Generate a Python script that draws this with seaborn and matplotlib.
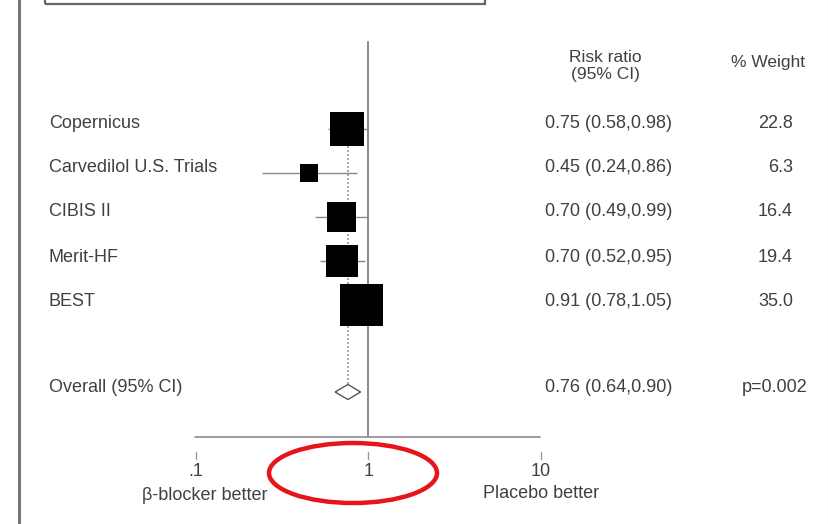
import numpy as np
import pandas as pd
import matplotlib
matplotlib.use("Agg")
import matplotlib.pyplot as plt
from matplotlib.patches import Ellipse, Rectangle, Polygon
import seaborn as sns

# ---------------- data ----------------
studies = ["Copernicus", "Carvedilol U.S. Trials", "CIBIS II", "Merit-HF", "BEST"]
rr = [0.75, 0.45, 0.70, 0.70, 0.91]
lo = [0.58, 0.24, 0.49, 0.52, 0.78]
hi = [0.98, 0.86, 0.99, 0.95, 1.05]
weight = [22.8, 6.3, 16.4, 19.4, 35.0]
overall_label = "Overall (95% CI)"
overall_rr = 0.76
overall_lo = 0.64
overall_hi = 0.90
overall_p = "p=0.002"
tick_values = [0.1, 1, 10]
tick_labels = [".1", "1", "10"]
left_note = "\u03b2-blocker better"
right_note = "Placebo better"

# ---------------- layout ----------------
W, H = 829, 524
sns.set_theme(style="white")
plt.rcParams["font.family"] = ["Liberation Sans", "DejaVu Sans"]
fig = plt.figure(figsize=(W / 100, H / 100), dpi=100)
ax = fig.add_axes([0, 0, 1, 1])
ax.set_xscale("log")
x0 = 196.0     # pixel of 0.1
dec = 172.5    # pixels per decade
ax.set_xlim(10 ** (-1 - x0 / dec), 10 ** (-1 + (W - x0) / dec))
ax.set_ylim(H, 0)
ax.axis("off")


def px(x):
    return 10 ** (-1 + (x - x0) / dec)


text_y = [124, 168, 212, 257, 301]
mark_y = [129, 173, 217, 261, 305]
overall_text_y = 388
overall_mark_y = 392
txt = "#404040"
fs = 13

df = pd.DataFrame({"study": studies, "rr": rr, "lo": lo, "hi": hi,
                   "weight": weight, "y": mark_y})

# reference line at 1
ax.plot([1, 1], [42, 437], color="#8a8a8a", lw=1.4, zorder=1)
# dotted line at overall estimate
ax.plot([overall_rr, overall_rr], [114, overall_mark_y - 8], color="#9a9a9a", lw=1.2,
        ls=(0, (1.2, 1.2)), zorder=1)
# horizontal axis line
ax.plot([px(195), px(540)], [437, 437], color="#8a8a8a", lw=1.2, zorder=1)
# detached ticks
for tv, tl in zip(tick_values, tick_labels):
    ax.plot([tv, tv], [452, 459], color="#9a9a9a", lw=1.0)
    ax.text(tv, 472, tl, ha="center", va="center", fontsize=fs, color=txt)

# CI lines
ax.hlines(df["y"], df["lo"], df["hi"], color="#8a8a8a", lw=1.0, zorder=2)

# squares, area proportional to weight
k = 27.0
sns.scatterplot(data=df, x="rr", y="y", size="weight",
                sizes=(k * min(weight), k * max(weight)),
                size_norm=(min(weight), max(weight)),
                marker="s", color="black", linewidth=0, legend=False,
                ax=ax, zorder=3)
ax.set_xlabel("")
ax.set_ylabel("")

# overall diamond
dh = 7.5
diamond = Polygon([(overall_lo, overall_mark_y), (overall_rr, overall_mark_y - dh),
                   (overall_hi, overall_mark_y), (overall_rr, overall_mark_y + dh)],
                  closed=True, facecolor="white", edgecolor="#555555",
                  lw=1.0, zorder=3)
ax.add_patch(diamond)

# left labels
for s, y in zip(studies, text_y):
    ax.text(px(49), y, s, ha="left", va="center", fontsize=fs, color=txt)
ax.text(px(49), overall_text_y, overall_label, ha="left", va="center",
        fontsize=fs, color=txt)

# right columns
ax.text(px(605), 57, "Risk ratio", ha="center", va="center", fontsize=fs - 0.5, color=txt)
ax.text(px(605), 75, "(95% CI)", ha="center", va="center", fontsize=fs - 0.5, color=txt)
ax.text(px(768), 62, "% Weight", ha="center", va="center", fontsize=fs - 0.5, color=txt)
for r, l, h, w, y in zip(rr, lo, hi, weight, text_y):
    ax.text(px(545), y, f"{r:.2f} ({l:.2f},{h:.2f})", ha="left", va="center",
            fontsize=fs, color=txt)
    ax.text(px(793), y, f"{w:.1f}", ha="right", va="center", fontsize=fs, color=txt)
ax.text(px(545), overall_text_y, f"{overall_rr:.2f} ({overall_lo:.2f},{overall_hi:.2f})",
        ha="left", va="center", fontsize=fs, color=txt)
ax.text(px(808), overall_text_y, overall_p, ha="right", va="center", fontsize=fs, color=txt)

# bottom notes
ax.text(px(205), 496, left_note, ha="center", va="center", fontsize=fs, color=txt)
ax.text(px(541), 494, right_note, ha="center", va="center", fontsize=fs, color=txt)

# scan artefacts: frame lines
fig.add_artist(plt.Line2D([19 / W, 19 / W], [0, 1], color="#777777", lw=2.2))
fig.add_artist(plt.Line2D([828 / W, 828 / W], [0, 1], color="#cccccc", lw=0.8))
fig.add_artist(Rectangle((45 / W, 1 - 4 / H), 440 / W, 20 / H, transform=fig.transFigure,
                         fill=False, edgecolor="#666666", lw=1.6))

# red ellipse annotation
ell = Ellipse((353 / W, 1 - 473 / H), 168 / W, 60 / H, transform=fig.transFigure,
              fill=False, edgecolor="#e8141b", lw=3.2)
fig.add_artist(ell)

fig.savefig("out.png", dpi=100)
